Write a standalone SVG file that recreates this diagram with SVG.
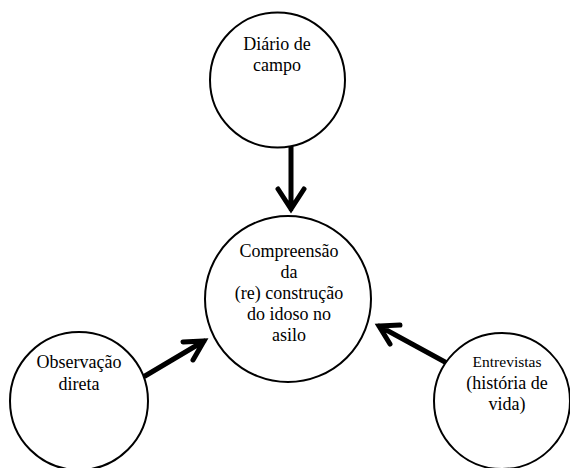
<svg xmlns="http://www.w3.org/2000/svg" width="570" height="468" viewBox="0 0 570 468">
<style>
.node{fill:#fff;stroke:#000;stroke-width:2}
.t{font-family:"Liberation Serif","Times New Roman",serif;font-size:18px;fill:#000;text-anchor:middle}
.s{font-size:15.5px}
.c{fill:none;stroke:#000;stroke-width:5;stroke-linecap:round;stroke-linejoin:miter}
</style>
<rect width="570" height="468" fill="#fff"/>
<g id="connectors">
<path class="c" d="M291 147 L291 209 M278 189 L291 209 L304 189"/>
<path class="c" d="M145 376 L204 341 M183 342 L204 341 L193 360"/>
<path class="c" d="M445 362 L379 326 M400 325 L379 326 L390 344"/>
</g>
<g id="diario">
<circle class="node" cx="277.5" cy="80" r="67.5"/>
<text class="t" x="277" y="50">Diário de</text>
<text class="t" x="277" y="71">campo</text>
</g>
<g id="compreensao">
<circle class="node" cx="288" cy="299" r="83"/>
<text class="t" x="289" y="257">Compreensão</text>
<text class="t" x="289" y="278">da</text>
<text class="t" x="289" y="299">(re) construção</text>
<text class="t" x="289" y="320">do idoso no</text>
<text class="t" x="289" y="341">asilo</text>
</g>
<g id="observacao">
<circle class="node" cx="79" cy="401" r="69"/>
<text class="t" x="79" y="368">Observação</text>
<text class="t" x="79" y="390">direta</text>
</g>
<g id="entrevistas">
<circle class="node" cx="502" cy="401" r="68"/>
<text class="t s" x="507" y="367">Entrevistas</text>
<text class="t" x="507" y="389">(história de</text>
<text class="t" x="507" y="410">vida)</text>
</g>
</svg>
